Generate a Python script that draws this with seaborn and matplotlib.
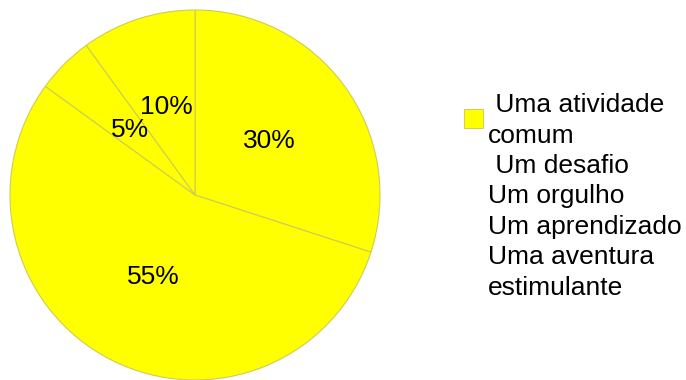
import matplotlib
matplotlib.use("Agg")
import matplotlib.pyplot as plt
import seaborn as sns
from matplotlib.patches import Rectangle

# dados do gráfico
categorias = ["Uma atividade comum", "Um desafio", "Um orgulho",
              "Um aprendizado", "Uma aventura estimulante"]
valores = [30, 55, 5, 10]
linhas_legenda = [" Uma atividade", "comum", " Um desafio", "Um orgulho",
                  "Um aprendizado", "Uma aventura", "estimulante"]

sns.set_style("white")
plt.rcParams['font.family'] = ['Liberation Sans', 'DejaVu Sans']
plt.rcParams['text.color'] = 'black'

fig = plt.figure(figsize=(6.86, 3.80), dpi=100)
ax = fig.add_axes([10 / 686, 0, 370 / 686, 370 / 380])

ax.pie(valores, colors=["#ffff00"] * len(valores), startangle=90, counterclock=False,
       autopct='%1.0f%%', pctdistance=0.5,
       wedgeprops={"edgecolor": "#cdcd55", "linewidth": 0.8},
       textprops={"fontsize": 19, "color": "black"})
ax.set_xlim(-1, 1)
ax.set_ylim(-1, 1)
ax.set_aspect('equal')
ax.axis('off')

# legenda manual
fig.patches.append(Rectangle((464 / 686, 1 - 128 / 380), 19 / 686, 19 / 380,
                             transform=fig.transFigure, facecolor="#ffff00",
                             edgecolor="#c8c850", linewidth=0.6))
y = 105
for linha in linhas_legenda:
    fig.text(488 / 686, 1 - y / 380, linha, fontsize=19, va='center', ha='left',
             color='black')
    y += 30.5

fig.savefig("out.png", dpi=100)
